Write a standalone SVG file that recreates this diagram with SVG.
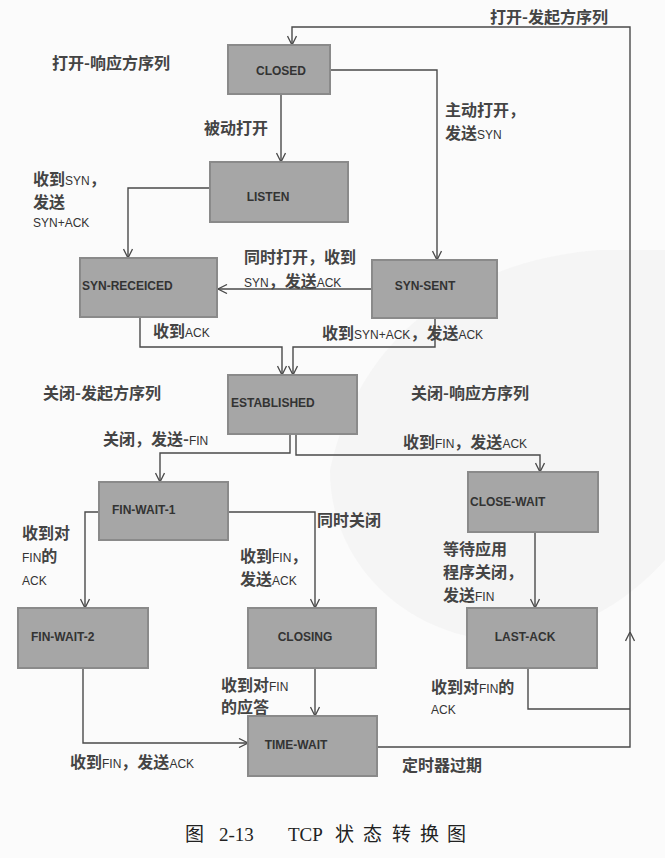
<svg xmlns="http://www.w3.org/2000/svg" width="665" height="858" viewBox="0 0 665 858">
<style>
.bg{fill:#fbfbfb}
.box{fill:#a6a6a6;stroke:#8a8a8a;stroke-width:2}
.nt{font-family:"Liberation Sans","Noto Sans",sans-serif;font-size:12px;font-weight:bold;fill:#333;dominant-baseline:central}
.lb{font-family:"Noto Sans CJK SC","Noto Sans",sans-serif;font-size:16px;font-weight:bold;fill:#444}
.s{font-family:"Liberation Sans",sans-serif;font-size:12px;font-weight:normal;fill:#333}
.ln{fill:none;stroke:#4a4a4a;stroke-width:1.4}
.cap{font-family:"Liberation Serif","Noto Sans CJK SC",serif;font-size:19px;fill:#222;dominant-baseline:central}
</style>
<defs>
<marker id="arr" viewBox="0 0 10 10" refX="10" refY="5" markerWidth="10" markerHeight="10" markerUnits="userSpaceOnUse" orient="auto">
<path d="M1,0.5 L10,5 L1,9.5" fill="none" stroke="#4a4a4a" stroke-width="1.3"/>
</marker>
</defs>
<rect class="bg" x="0" y="0" width="665" height="858"/>
<path d="M330,470 C360,330 470,260 600,250 L665,250 L665,560 C620,610 560,640 490,640 C400,630 330,560 330,470 Z" fill="#f0f0f0" opacity="0.5"/>

<g id="connectors">
<path class="ln" d="M377,747 L630,747 L630,632" marker-end="url(#arr)"/>
<path class="ln" d="M630,632 L630,27 L292,27 L292,45" marker-end="url(#arr)"/>
<path class="ln" d="M528,668 L528,709 L630,709"/>
<path class="ln" d="M281,95 L281,162" marker-end="url(#arr)"/>
<path class="ln" d="M330,70 L437,70 L437,260" marker-end="url(#arr)"/>
<path class="ln" d="M210,188 L128,188 L128,258" marker-end="url(#arr)"/>
<path class="ln" d="M372,289 L218,289" marker-end="url(#arr)"/>
<path class="ln" d="M140,317 L140,347 L282,347 L282,375" marker-end="url(#arr)"/>
<path class="ln" d="M435,318 L435,347 L293,347 L293,375" marker-end="url(#arr)"/>
<path class="ln" d="M290,434 L290,453 L160,453 L160,482" marker-end="url(#arr)"/>
<path class="ln" d="M296,434 L296,455 L540,455 L540,472" marker-end="url(#arr)"/>
<path class="ln" d="M99,512 L85,512 L85,608" marker-end="url(#arr)"/>
<path class="ln" d="M228,512 L315,512 L315,608" marker-end="url(#arr)"/>
<path class="ln" d="M535,532 L535,608" marker-end="url(#arr)"/>
<path class="ln" d="M83,668 L83,743 L248,743" marker-end="url(#arr)"/>
<path class="ln" d="M315,668 L315,716" marker-end="url(#arr)"/>
</g>

<g id="closed"><rect class="box" x="228" y="45" width="102" height="49"/><text class="nt" x="281" y="71" text-anchor="middle">CLOSED</text></g>
<g id="listen"><rect class="box" x="210" y="162" width="138" height="60"/><text class="nt" x="268" y="197" text-anchor="middle">LISTEN</text></g>
<g id="syn-received"><rect class="box" x="80" y="258" width="137" height="59"/><text class="nt" x="82" y="286">SYN-RECEICED</text></g>
<g id="syn-sent"><rect class="box" x="372" y="260" width="125" height="58"/><text class="nt" x="425" y="286" text-anchor="middle">SYN-SENT</text></g>
<g id="established"><rect class="box" x="228" y="375" width="129" height="59"/><text class="nt" x="231" y="403">ESTABLISHED</text></g>
<g id="fin-wait-1"><rect class="box" x="99" y="482" width="129" height="58"/><text class="nt" x="112" y="510">FIN-WAIT-1</text></g>
<g id="close-wait"><rect class="box" x="468" y="472" width="130" height="60"/><text class="nt" x="470" y="502">CLOSE-WAIT</text></g>
<g id="fin-wait-2"><rect class="box" x="18" y="608" width="130" height="60"/><text class="nt" x="31" y="637">FIN-WAIT-2</text></g>
<g id="closing"><rect class="box" x="248" y="608" width="128" height="60"/><text class="nt" x="305" y="637" text-anchor="middle">CLOSING</text></g>
<g id="last-ack"><rect class="box" x="467" y="608" width="130" height="60"/><text class="nt" x="525" y="637" text-anchor="middle">LAST-ACK</text></g>
<g id="time-wait"><rect class="box" x="248" y="716" width="129" height="60"/><text class="nt" x="296" y="745" text-anchor="middle">TIME-WAIT</text></g>

<g id="labels">
<text class="lb" x="490" y="23">打开-发起方序列</text>
<text class="lb" x="52" y="69">打开-响应方序列</text>
<text class="lb" x="204" y="134">被动打开</text>
<text class="lb" x="445" y="116">主动打开，</text>
<text class="lb" x="445" y="139">发送<tspan class="s">SYN</tspan></text>
<text class="lb" x="33" y="185">收到<tspan class="s">SYN</tspan>，</text>
<text class="lb" x="33" y="208">发送</text>
<text class="lb" x="33" y="227"><tspan class="s">SYN+ACK</tspan></text>
<text class="lb" x="244" y="263">同时打开，收到</text>
<text class="lb" x="244" y="287"><tspan class="s">SYN</tspan>，发送<tspan class="s">ACK</tspan></text>
<text class="lb" x="153" y="337">收到<tspan class="s">ACK</tspan></text>
<text class="lb" x="322" y="339">收到<tspan class="s">SYN+ACK</tspan>，发送<tspan class="s">ACK</tspan></text>
<text class="lb" x="43" y="399">关闭-发起方序列</text>
<text class="lb" x="411" y="399">关闭-响应方序列</text>
<text class="lb" x="103" y="445">关闭，发送-<tspan class="s">FIN</tspan></text>
<text class="lb" x="403" y="448">收到<tspan class="s">FIN</tspan>，发送<tspan class="s">ACK</tspan></text>
<text class="lb" x="317" y="526">同时关闭</text>
<text class="lb" x="22" y="539">收到对</text>
<text class="lb" x="22" y="562"><tspan class="s">FIN</tspan>的</text>
<text class="lb" x="22" y="585"><tspan class="s">ACK</tspan></text>
<text class="lb" x="240" y="562">收到<tspan class="s">FIN</tspan>，</text>
<text class="lb" x="240" y="585">发送<tspan class="s">ACK</tspan></text>
<text class="lb" x="443" y="555">等待应用</text>
<text class="lb" x="443" y="578">程序关闭，</text>
<text class="lb" x="443" y="601">发送<tspan class="s">FIN</tspan></text>
<text class="lb" x="221" y="691">收到对<tspan class="s">FIN</tspan></text>
<text class="lb" x="221" y="713">的应答</text>
<text class="lb" x="431" y="693">收到对<tspan class="s">FIN</tspan>的</text>
<text class="lb" x="431" y="714"><tspan class="s">ACK</tspan></text>
<text class="lb" x="70" y="768">收到<tspan class="s">FIN</tspan>，发送<tspan class="s">ACK</tspan></text>
<text class="lb" x="402" y="771">定时器过期</text>
<text class="cap" y="834"><tspan x="185">图</tspan><tspan x="219">2-13</tspan><tspan x="288">TCP</tspan><tspan x="335">状</tspan><tspan x="363">态</tspan><tspan x="392">转</tspan><tspan x="420">换</tspan><tspan x="447">图</tspan></text>
</g>
</svg>
